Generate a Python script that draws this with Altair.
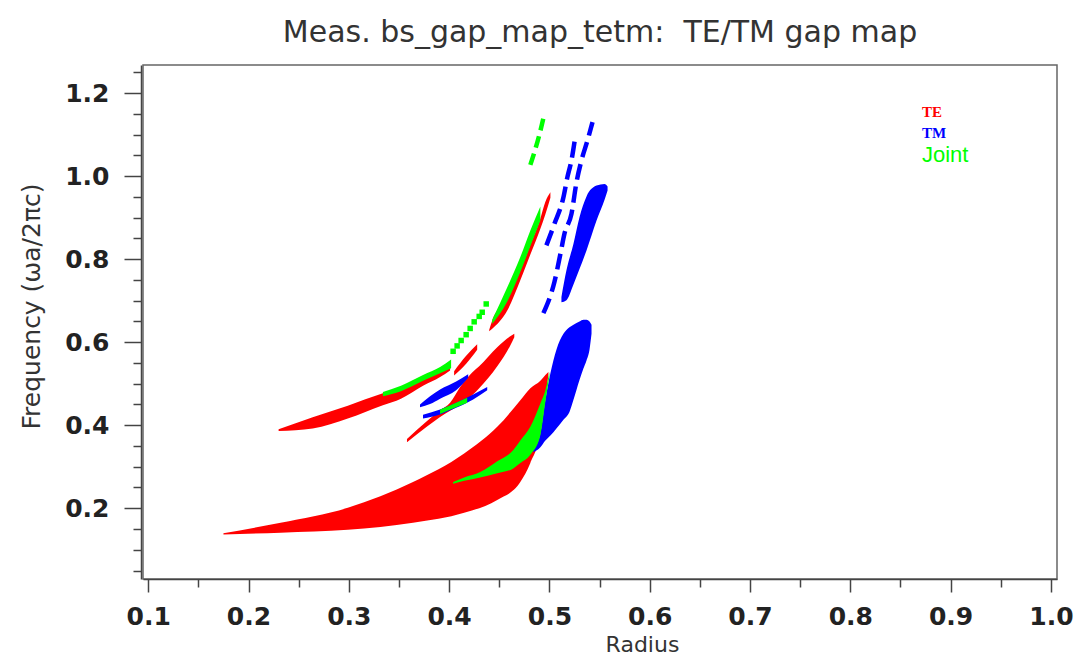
import altair as alt
import pandas as pd

# ---------------- band-gap regions (radius, lower edge, upper edge) ----------------
# TE gaps (red)
TE_MAIN_R = [0.175, 0.232, 0.299, 0.364, 0.415, 0.448, 0.471, 0.481, 0.491, 0.496, 0.499]
TE_MAIN_LO = [0.137, 0.141, 0.148, 0.165, 0.189, 0.220, 0.263, 0.309, 0.380, 0.461, 0.522]
TE_MAIN_HI = [0.140, 0.165, 0.201, 0.263, 0.332, 0.396, 0.460, 0.489, 0.507, 0.521, 0.528]

TE_SLIVER_R = [0.230, 0.264, 0.299, 0.334, 0.352, 0.374, 0.391, 0.401]
TE_SLIVER_LO = [0.386, 0.392, 0.416, 0.448, 0.464, 0.495, 0.516, 0.532]
TE_SLIVER_HI = [0.390, 0.419, 0.447, 0.477, 0.489, 0.510, 0.528, 0.540]

TE_STRIP_A_R = [0.405, 0.417, 0.428]
TE_STRIP_A_LO = [0.520, 0.548, 0.582]
TE_STRIP_A_HI = [0.530, 0.567, 0.595]

TE_STRIP_B_R = [0.358, 0.378, 0.391, 0.401, 0.411, 0.423, 0.430, 0.448, 0.461, 0.465]
TE_STRIP_B_LO = [0.359, 0.397, 0.420, 0.435, 0.450, 0.472, 0.489, 0.542, 0.592, 0.612]
TE_STRIP_B_HI = [0.367, 0.410, 0.436, 0.454, 0.492, 0.527, 0.542, 0.588, 0.614, 0.620]

TE_UPPER_R = [0.440, 0.443, 0.458, 0.471, 0.481, 0.491, 0.496, 0.501]
TE_UPPER_LO = [0.626, 0.632, 0.676, 0.749, 0.811, 0.873, 0.908, 0.948]
TE_UPPER_HI = [0.630, 0.652, 0.704, 0.773, 0.835, 0.898, 0.938, 0.961]

# TM gaps (blue)
TM_LOWER_R = [0.484, 0.491, 0.496, 0.501, 0.507, 0.514, 0.520, 0.524, 0.530, 0.534, 0.537, 0.540, 0.542]
TM_LOWER_LO = [0.335, 0.347, 0.363, 0.375, 0.392, 0.413, 0.432, 0.461, 0.509, 0.537, 0.556, 0.582, 0.620]
TM_LOWER_HI = [0.341, 0.380, 0.461, 0.525, 0.582, 0.620, 0.636, 0.642, 0.650, 0.654, 0.654, 0.650, 0.642]

TM_UPPER_R = [0.512, 0.517, 0.524, 0.530, 0.537, 0.547, 0.555, 0.558]
TM_UPPER_LO = [0.696, 0.701, 0.739, 0.776, 0.821, 0.893, 0.943, 0.965]
TM_UPPER_HI = [0.709, 0.773, 0.837, 0.901, 0.951, 0.977, 0.981, 0.975]

TM_C1_R = [0.371, 0.381, 0.391, 0.407, 0.419]
TM_C1_LO = [0.443, 0.451, 0.464, 0.484, 0.514]
TM_C1_HI = [0.450, 0.470, 0.486, 0.505, 0.523]

TM_C2_R = [0.374, 0.391, 0.407, 0.424, 0.438]
TM_C2_LO = [0.416, 0.426, 0.442, 0.462, 0.484]
TM_C2_HI = [0.425, 0.438, 0.454, 0.474, 0.492]

# Joint gaps (green)
JOINT_MAIN_R = [0.404, 0.415, 0.431, 0.448, 0.464, 0.471, 0.481, 0.491, 0.496, 0.500]
JOINT_MAIN_LO = [0.259, 0.266, 0.274, 0.284, 0.296, 0.309, 0.329, 0.376, 0.457, 0.517]
JOINT_MAIN_HI = [0.263, 0.274, 0.287, 0.313, 0.340, 0.363, 0.396, 0.452, 0.484, 0.528]

JOINT_SLIVER_R = [0.334, 0.352, 0.374, 0.391, 0.402]
JOINT_SLIVER_LO = [0.470, 0.482, 0.507, 0.525, 0.537]
JOINT_SLIVER_HI = [0.480, 0.495, 0.521, 0.540, 0.558]

JOINT_C2_R = [0.391, 0.407, 0.418]
JOINT_C2_LO = [0.427, 0.443, 0.454]
JOINT_C2_HI = [0.438, 0.454, 0.466]

JOINT_UPPER_R = [0.443, 0.458, 0.471, 0.481, 0.491]
JOINT_UPPER_LO = [0.644, 0.698, 0.769, 0.831, 0.893]
JOINT_UPPER_HI = [0.654, 0.732, 0.805, 0.869, 0.927]

# dashed narrow gaps (centre lines)
TM_DASH_A_R = [0.497, 0.505, 0.514, 0.518, 0.522, 0.526]
TM_DASH_A_F = [0.833, 0.885, 0.949, 0.998, 1.038, 1.098]
TM_DASH_B_R = [0.494, 0.505, 0.511, 0.515, 0.522, 0.527, 0.532, 0.538, 0.543]
TM_DASH_B_F = [0.670, 0.745, 0.813, 0.861, 0.909, 0.985, 1.038, 1.086, 1.130]
JOINT_DASH_R = [0.481, 0.486, 0.491, 0.495]
JOINT_DASH_F = [1.027, 1.065, 1.109, 1.150]

# dotted joint gap
JOINT_DOTS_R = [0.404, 0.408, 0.412, 0.417, 0.421, 0.425, 0.430, 0.433, 0.437]
JOINT_DOTS_F = [0.578, 0.591, 0.604, 0.618, 0.633, 0.649, 0.662, 0.672, 0.692]

KINDS = ["TE", "TM", "Joint"]
COLORS = ["#ff0000", "#0000ff", "#00ff00"]

X_TICKS = [round(0.1 + 0.05 * i, 2) for i in range(19)]
Y_TICKS = [round(0.05 + 0.05 * i, 2) for i in range(25)]

TITLE = "Meas. bs_gap_map_tetm:\u00a0 TE/TM gap map"
X_TITLE = "Radius"
Y_TITLE = "Frequency (\u03c9a/2\u03c0c)"

# ---------------- tables ----------------
BANDS = [
    ("te_main", "TE", TE_MAIN_R, TE_MAIN_LO, TE_MAIN_HI),
    ("te_sliver", "TE", TE_SLIVER_R, TE_SLIVER_LO, TE_SLIVER_HI),
    ("te_strip_a", "TE", TE_STRIP_A_R, TE_STRIP_A_LO, TE_STRIP_A_HI),
    ("te_strip_b", "TE", TE_STRIP_B_R, TE_STRIP_B_LO, TE_STRIP_B_HI),
    ("te_upper", "TE", TE_UPPER_R, TE_UPPER_LO, TE_UPPER_HI),
    ("tm_lower", "TM", TM_LOWER_R, TM_LOWER_LO, TM_LOWER_HI),
    ("tm_upper", "TM", TM_UPPER_R, TM_UPPER_LO, TM_UPPER_HI),
    ("tm_c1", "TM", TM_C1_R, TM_C1_LO, TM_C1_HI),
    ("tm_c2", "TM", TM_C2_R, TM_C2_LO, TM_C2_HI),
    ("joint_main", "Joint", JOINT_MAIN_R, JOINT_MAIN_LO, JOINT_MAIN_HI),
    ("joint_sliver", "Joint", JOINT_SLIVER_R, JOINT_SLIVER_LO, JOINT_SLIVER_HI),
    ("joint_c2", "Joint", JOINT_C2_R, JOINT_C2_LO, JOINT_C2_HI),
    ("joint_upper", "Joint", JOINT_UPPER_R, JOINT_UPPER_LO, JOINT_UPPER_HI),
]
rows = []
for name, kind, rr, lo, hi in BANDS:
    for a, b, c in zip(rr, lo, hi):
        rows.append({"band": name, "kind": kind, "radius": a, "low": b, "high": c})
bands = pd.DataFrame(rows)

LINES = [
    ("tm_dash_a", "TM", TM_DASH_A_R, TM_DASH_A_F),
    ("tm_dash_b", "TM", TM_DASH_B_R, TM_DASH_B_F),
    ("joint_dash", "Joint", JOINT_DASH_R, JOINT_DASH_F),
]
lrows = []
for name, kind, rr, ff in LINES:
    for a, b in zip(rr, ff):
        lrows.append({"curve": name, "kind": kind, "radius": a, "low": b})
lines = pd.DataFrame(lrows)

dots = pd.DataFrame({"kind": "Joint", "radius": JOINT_DOTS_R, "low": JOINT_DOTS_F})
legend_df = pd.DataFrame({"kind": KINDS})

# ---------------- encodings ----------------
X_MAJOR = "abs(datum.value*10 - round(datum.value*10)) < 0.001"
Y_MAJOR = "abs(datum.value*5 - round(datum.value*5)) < 0.001"

x_axis = alt.Axis(
    values=X_TICKS, labelExpr=f"{X_MAJOR} ? format(datum.value, '.1f') : ''",
    tickSize={"condition": {"test": X_MAJOR, "value": 13}, "value": 8},
    tickColor="#444", tickWidth=1.5, domainColor="#444", domainWidth=1.5,
    labelFont="DejaVu Sans", labelFontWeight="bold", labelFontSize=25, labelColor="#222",
    labelPadding=12, labelOverlap=False, labelFlush=False, grid=False,
    titleFont="DejaVu Sans", titleFontSize=22, titleFontWeight="normal", titleColor="#333",
    titleX=499, titleAlign="center", titleY=72, titleBaseline="alphabetic",
)
y_axis = alt.Axis(
    values=Y_TICKS, labelExpr=f"{Y_MAJOR} ? format(datum.value, '.1f') : ''",
    tickSize={"condition": {"test": Y_MAJOR, "value": 17}, "value": 8},
    tickColor="#444", tickWidth=1.5, domainColor="#444", domainWidth=1.5, offset=2,
    labelFont="DejaVu Sans", labelFontWeight="bold", labelFontSize=25, labelColor="#222",
    labelPadding=15, labelOverlap=False, labelFlush=False, grid=False,
    titleFont="DejaVu Sans", titleFontSize=25, titleFontWeight="normal", titleColor="#333",
    titleAngle=270, titleX=-110, titleY=241, titleAlign="center", titleBaseline="middle",
)
x_scale = alt.Scale(domain=[0.0948, 1.0061], nice=False, zero=False)
y_scale = alt.Scale(domain=[0.0296, 1.2675], nice=False, zero=False)

color = alt.Color("kind:N", scale=alt.Scale(domain=KINDS, range=COLORS), legend=None)

X = alt.X("radius:Q", scale=x_scale, axis=x_axis, title=X_TITLE)
Y = alt.Y("low:Q", scale=y_scale, axis=y_axis, title=Y_TITLE)


def area_layer(kind):
    return alt.Chart(bands).transform_filter(alt.datum.kind == kind).mark_area(
        opacity=1, interpolate="monotone"
    ).encode(x=X, y=Y, y2=alt.Y2("high:Q"), color=color, detail="band:N")


def dash_layer(kind, dash):
    return alt.Chart(lines).transform_filter(alt.datum.kind == kind).mark_line(
        strokeWidth=4.5, strokeDash=dash, strokeCap="butt", interpolate="monotone"
    ).encode(x=X, y=Y, color=color, detail="curve:N")


dot_layer = alt.Chart(dots).mark_square(size=30, opacity=1).encode(x=X, y=Y, color=color)


# legend entries: coloured labels at the top right of the plot
def legend_label(kind, ypix, font, weight, size):
    return alt.Chart(legend_df).transform_filter(alt.datum.kind == kind).mark_text(
        align="left", baseline="alphabetic", font=font, fontWeight=weight, fontSize=size
    ).encode(text="kind:N", color=color, x=alt.value(779), y=alt.value(ypix))


chart = alt.layer(
    area_layer("TE"),
    area_layer("TM"),
    dash_layer("TM", [16, 7]),
    area_layer("Joint"),
    dash_layer("Joint", [12, 6]),
    dot_layer,
    legend_label("TE", 52, "Liberation Serif", "bold", 15),
    legend_label("TM", 73, "Liberation Serif", "bold", 15),
    legend_label("Joint", 97, "Liberation Sans", "normal", 22),
).properties(
    width=914, height=514,
    title=alt.TitleParams(text=TITLE, font="DejaVu Sans", fontSize=30, fontWeight="normal",
                          color="#333", anchor="middle", offset=20, baseline="alphabetic",
                          dy=32),
    autosize=alt.AutoSizeParams(type="none"),
    padding={"left": 135, "top": 57, "right": 20, "bottom": 77},
).configure_view(stroke="#666", strokeWidth=1.5)

chart.save("out.html", embed_options={"renderer": "svg", "actions": False})
